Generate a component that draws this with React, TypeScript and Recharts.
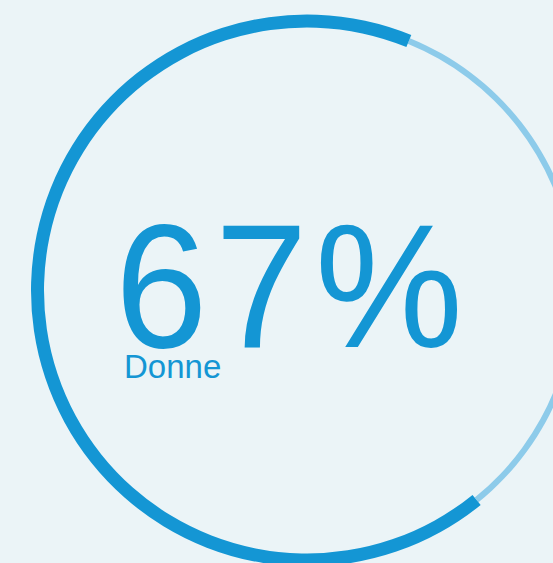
import React from "react";
import { PieChart, Pie, Cell, Customized } from "recharts";

const categories = ["Donne", "Reste"];
const values = [67, 33];
const percentLabel = "67%";
const captionLabel = "Donne";

const DARK = "#1496d4";
const LIGHT = "#8dcbea";
const BG = "#ebf4f7";

const data = categories.map((name, i) => ({ name, value: values[i] }));

const CenterText = () => (
  <g>
    <g transform="translate(115,0) scale(0.94,1)">
      <text
        x={0}
        y={347}
        fontFamily="'Liberation Sans', Arial, sans-serif"
        fontSize={177}
        letterSpacing={8}
        fill={DARK}
      >
        {percentLabel}
      </text>
    </g>
    <text
      x={124}
      y={378}
      fontFamily="'Liberation Sans', Arial, sans-serif"
      fontSize={33}
      fill={DARK}
    >
      {captionLabel}
    </text>
  </g>
);

export default function App() {
  if (typeof document !== "undefined") {
    document.body.style.margin = "0";
  }
  return (
    <div
      style={{
        position: "absolute",
        left: 0,
        top: 0,
        width: 553,
        height: 563,
        background: BG,
        overflow: "hidden",
      }}
    >
      <PieChart width={553} height={563} margin={{ top: 0, right: 0, bottom: 0, left: 0 }}>
        <Pie
          data={data}
          dataKey="value"
          cx={307}
          cy={290.5}
          innerRadius={266.5}
          outerRadius={272.5}
          startAngle={67.8}
          endAngle={427.8}
          stroke="none"
          isAnimationActive={false}
        >
          <Cell fill="transparent" />
          <Cell fill={LIGHT} />
        </Pie>
        <Pie
          data={data}
          dataKey="value"
          cx={307}
          cy={290.5}
          innerRadius={263}
          outerRadius={276}
          startAngle={67.8}
          endAngle={427.8}
          stroke="none"
          isAnimationActive={false}
        >
          <Cell fill={DARK} />
          <Cell fill="transparent" />
        </Pie>
        <Customized component={CenterText} />
      </PieChart>
    </div>
  );
}
